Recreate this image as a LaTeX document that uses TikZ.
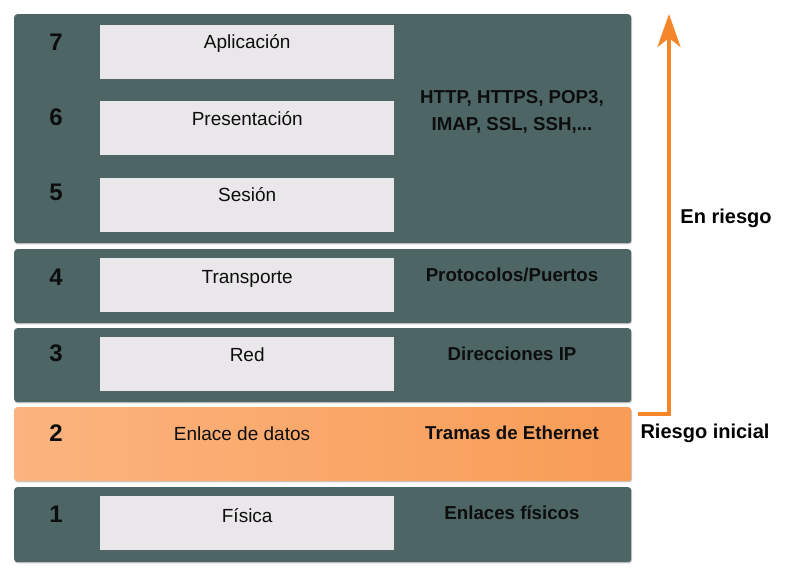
\documentclass[tikz,border=0pt]{standalone}
\usepackage{fontspec}
\setmainfont{Liberation Sans}
\usetikzlibrary{arrows.meta,shadows,calc}
\definecolor{bandgray}{HTML}{4D6665}
\definecolor{boxfill}{HTML}{E9E7E9}
\definecolor{orangeL}{HTML}{FBB47F}
\definecolor{orangeR}{HTML}{F89C56}
\definecolor{arrowor}{HTML}{F5862A}
\tikzset{
  band/.style={draw=none, fill=bandgray, rounded corners=3pt, anchor=north west,
    minimum width=617pt, inner sep=0pt,
    drop shadow={shadow xshift=0.8pt, shadow yshift=-1.2pt, opacity=0.35, fill=black!60}},
  obox/.style={draw=none, rounded corners=3pt, anchor=north west,
    minimum width=617pt, inner sep=0pt, left color=orangeL, right color=orangeR,
    drop shadow={shadow xshift=0.8pt, shadow yshift=-1.2pt, opacity=0.35, fill=black!60}},
  wbox/.style={draw=none, fill=boxfill, anchor=north west, minimum width=294pt,
    minimum height=54pt, inner sep=0pt,
    drop shadow={shadow xshift=0.6pt, shadow yshift=-0.8pt, opacity=0.25, fill=black!60}},
  num/.style={font=\bfseries\fontsize{24}{26}\selectfont, text=black!95, inner sep=0pt},
  lbl/.style={font=\fontsize{19}{21}\selectfont, text=black!95, inner sep=0pt},
  info/.style={font=\bfseries\fontsize{18.7}{27}\selectfont, text=black!95, inner sep=0pt, align=center},
  side/.style={font=\bfseries\fontsize{20}{22}\selectfont, text=black, inner sep=0pt},
  riskline/.style={draw=arrowor, line width=4pt}
}
\begin{document}
\begin{tikzpicture}[x=1pt,y=-1pt]
\useasboundingbox (0,0) rectangle (798,570);
% bands
\node[band, minimum height=229pt] (bA) at (14,14) {};
\node[band, minimum height=74pt] (b4) at (14,249) {};
\node[band, minimum height=74pt] (b3) at (14,328) {};
\node[obox, minimum height=74pt] (b2) at (14,407) {};
\node[band, minimum height=75pt] (b1) at (14,487) {};
% white boxes
\node[wbox] (w7) at (100,25) {};
\node[wbox] (w6) at (100,101) {};
\node[wbox] (w5) at (100,178) {};
\node[wbox] (w4) at (100,258) {};
\node[wbox] (w3) at (100,337) {};
\node[wbox] (w1) at (100,496) {};
% box labels
\node[lbl] (t7) at ($(w7.north)+(0,18)$) {Aplicación};
\node[lbl] (t6) at ($(w6.north)+(0,18)$) {Presentación};
\node[lbl] (t5) at ($(w5.north)+(0,17)$) {Sesión};
\node[lbl] (t4) at ($(w4.north)+(0,21)$) {Transporte};
\node[lbl] (t3) at ($(w3.north)+(0,18)$) {Red};
\node[lbl] (t2) at (242,434) {Enlace de datos};
\node[lbl] (t1) at ($(w1.north)+(0,20)$) {Física};
% numbers
\node[num] (n7) at (56,42) {7};
\node[num] (n6) at (56,117) {6};
\node[num] (n5) at (56,192) {5};
\node[num] (n4) at (56,277) {4};
\node[num] (n3) at (56,353) {3};
\node[num] (n2) at (56,433) {2};
\node[num] (n1) at (56,514) {1};
% right info
\node[info] (iA) at (512,112) {HTTP, HTTPS, POP3,\\IMAP, SSL, SSH,...};
\node[info] (i4) at (512,275) {Protocolos/Puertos};
\node[info] (i3) at (512,354) {Direcciones IP};
\node[info] (i2) at (512,433) {Tramas de Ethernet};
\node[info] (i1) at (512,513) {Enlaces físicos};
% risk arrow
\coordinate (rs) at ($(b2.north east)+(7,7)$);
\coordinate (re) at (669,14);
\draw[riskline, -{Stealth[width=23pt,length=33pt,inset=9pt]}] (rs) -| (re);
\node[side] (er) at (726,218) {En riesgo};
\node[side] (ri) at (705,433) {Riesgo inicial};
\end{tikzpicture}
\end{document}
